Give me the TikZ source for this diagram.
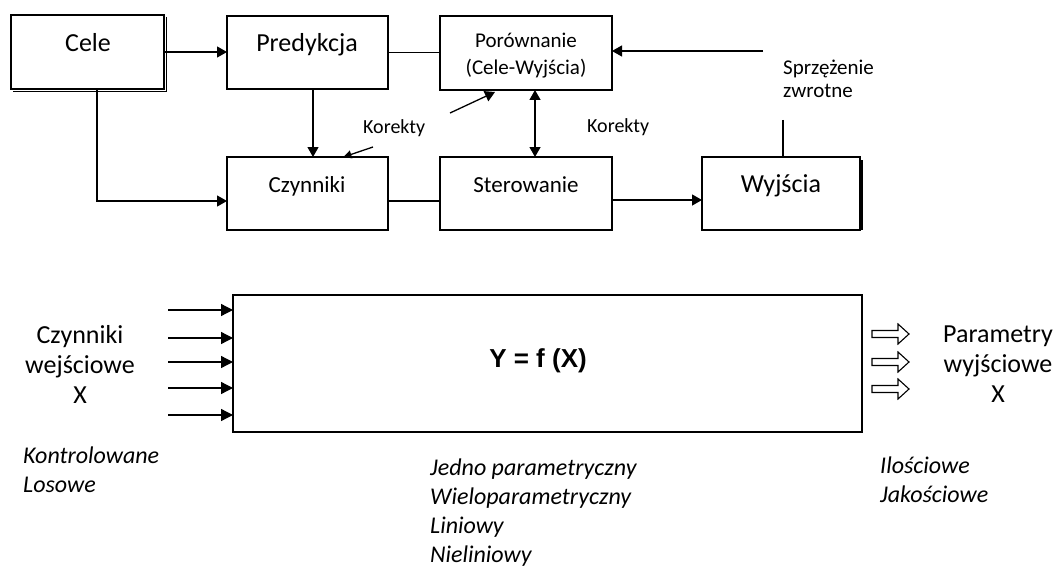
\documentclass[tikz,border=0pt]{standalone}
\usepackage{fontspec}
\setmainfont{Carlito}
\newfontfamily\arialfont{Liberation Sans}
\usetikzlibrary{arrows.meta}
\tikzset{
 box/.style={draw, line width=1.4pt, inner sep=0pt, outer sep=0pt, anchor=north west},
 conn/.style={line width=1.3pt},
 arr/.style={conn, -{Triangle[length=10pt,width=11pt]}},
 smarr/.style={conn, -{Triangle[length=8pt,width=8pt]}},
 darr/.style={conn, {Triangle[length=10pt,width=11pt]}-{Triangle[length=10pt,width=11pt]}},
 inarr/.style={conn, -{Triangle[length=12pt,width=12pt]}},
 lbl/.style={inner sep=0pt, anchor=base},
 lblw/.style={inner sep=0pt, anchor=base west},
 hollow/.style={draw, line width=1.1pt, fill=white},
 fA/.style={font=\fontsize{26}{31}\selectfont},
 fB/.style={font=\fontsize{23}{28}\selectfont},
 fC/.style={font=\fontsize{21}{25}\selectfont},
 fD/.style={font=\fontsize{20}{24}\selectfont},
 fE/.style={font=\fontsize{25}{30}\selectfont},
 fI/.style={font=\itshape\fontsize{24}{29}\selectfont},
}
\begin{document}
\begin{tikzpicture}[x=1pt,y=-1pt]
\useasboundingbox (0,0) rectangle (1062,567);
% boxes
\node[box,minimum width=153pt,minimum height=74pt] (cele) at (11,15) {};
\node[box,minimum width=161pt,minimum height=73pt] (pred) at (227,16) {};
\node[box,minimum width=172pt,minimum height=74pt] (por) at (440,16) {};
\node[box,minimum width=161pt,minimum height=73pt] (czyn) at (227,157) {};
\node[box,minimum width=172pt,minimum height=73pt] (ster) at (440,157) {};
\node[box,minimum width=158pt,minimum height=73pt] (wyj) at (702,157) {};
\node[box,minimum width=629pt,minimum height=137pt] (big) at (233,295) {};
% shadows
\draw[conn] ([shift={(2.5pt,-2pt)}]cele.north east) |- ([shift={(2pt,-2.5pt)}]cele.south west);
\draw[conn] ([shift={(2pt,-3pt)}]wyj.north east) -- ([shift={(2pt,0pt)}]wyj.south east);
% box labels
\node[lbl,fA] (celet) at (88,52) {Cele};
\node[lbl,fA] (predt) at (307,52) {Predykcja};
\node[lbl,fC] (port1) at (526,48) {Porównanie};
\node[lbl,fC] (port2) at (526,75) {(Cele-Wyjścia)};
\node[lbl,fB] (czynt) at (307,192) {Czynniki};
\node[lbl,fB] (stert) at (526,192) {Sterowanie};
\node[lbl,fA] (wyjt) at (781,192) {Wyjścia};
\node[lblw,fD] (kor1) at (363,133) {Korekty};
\node[lblw,fD] (kor2) at (587,132) {Korekty};
\node[lblw,fC] (spr1) at (783,75) {Sprzężenie};
\node[lblw,fC] (spr2) at (783,98) {zwrotne};
% connectors
\draw[arr] (cele.east) -- (cele.east -| pred.west);
\draw[conn] (pred.east) -- (pred.east -| por.west);
\draw[arr] ([xshift=5.5pt]pred.south) -- ([xshift=5.5pt]czyn.north);
\draw[arr] ([xshift=9.5pt]cele.south) |- ([yshift=-7.5pt]czyn.west);
\draw[conn] ([yshift=-7.5pt]czyn.east) -- ([yshift=-7.5pt]ster.west);
\draw[arr] ([yshift=-6.5pt]ster.east) -- ([yshift=-6.5pt]wyj.west);
\draw[darr] ([xshift=9pt]por.south) -- ([xshift=9pt]ster.north);
\coordinate (fb1) at (763,51);
\draw[arr] (fb1) -- (fb1 -| por.east);
\coordinate (fb2) at (783,120);
\draw[conn] (fb2) -- (fb2 |- wyj.north);
\coordinate (k1) at (373,147);
\draw[smarr] (k1) -- ([xshift=36pt]czyn.north);
\coordinate (k2) at (450,113);
\draw[arr] (k2) -- ([shift={(-31pt,-2pt)}]por.south);
% input arrows
\foreach \i/\y in {1/310,2/338,3/362,4/388,5/415}{
  \coordinate (in\i) at (168,\y);
  \draw[inarr] (in\i) -- (in\i -| big.west);
}
% hollow output arrows
\foreach \y in {334,362,389}{
  \draw[hollow] (872,\y-3.5) -- (898,\y-3.5) -- (898,\y-10) -- (909,\y) -- (898,\y+10) -- (898,\y+3.5) -- (872,\y+3.5) -- cycle;
}
% big box label
\node[lbl,font=\arialfont\bfseries\fontsize{26}{31}\selectfont] (yfx) at (538,367) {Y = f (X)};
% side labels
\node[lbl,fA] (cw1) at (80,343) {Czynniki};
\node[lbl,fA] (cw2) at (80,373) {wejściowe};
\node[lbl,fA] (cw3) at (80,403) {X};
\node[lbl,fA] (pw1) at (998,342) {Parametry};
\node[lbl,fA] (pw2) at (998,372) {wyjściowe};
\node[lbl,fA] (pw3) at (998,402) {X};
% italic lists
\node[lblw,fI] (l1) at (23,463) {Kontrolowane};
\node[lblw,fI] (l2) at (23,492) {Losowe};
\node[lblw,fI] (m1) at (430,475) {Jedno parametryczny};
\node[lblw,fI] (m2) at (430,504) {Wieloparametryczny};
\node[lblw,fI] (m3) at (430,533) {Liniowy};
\node[lblw,fI] (m4) at (430,562) {Nieliniowy};
\node[lblw,fI] (r1) at (880,473) {Ilościowe};
\node[lblw,fI] (r2) at (880,502) {Jakościowe};
\end{tikzpicture}
\end{document}
